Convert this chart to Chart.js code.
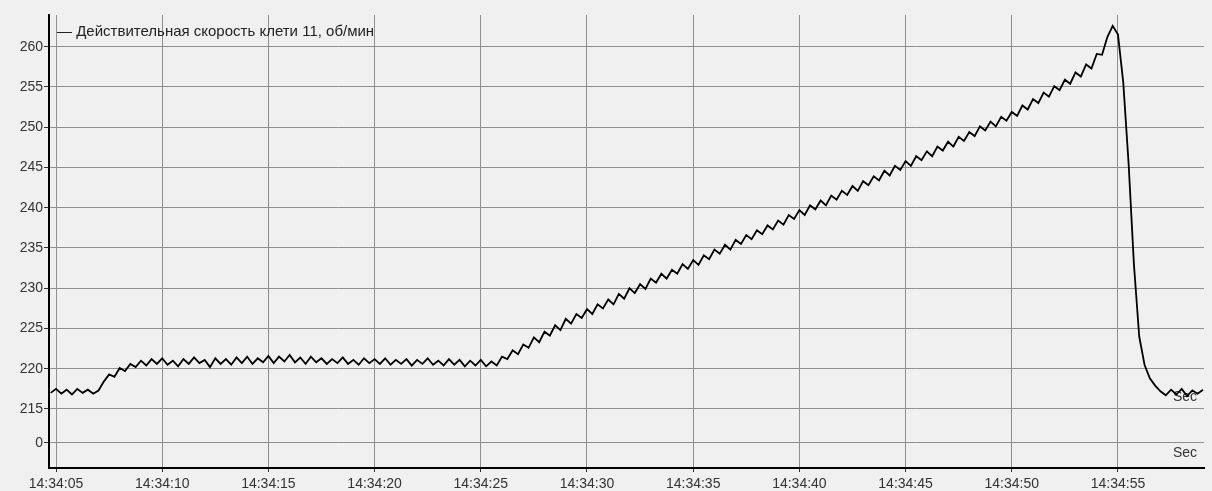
<!DOCTYPE html>
<html>
<head>
<meta charset="utf-8">
<script src="https://cdn.jsdelivr.net/npm/chart.js@4/dist/chart.umd.min.js"></script>
<style>
  html, body { margin: 0; padding: 0; background: #f0f0f0; }
  #wrap { width: 1212px; height: 491px; position: relative; }
</style>
</head>
<body>
<div id="wrap"><canvas id="grafico"></canvas></div>
<script>
// время в секундах после 14:34:00, шаг записи 0.25 с
const inicioAmostra = 4.75;
const passoAmostra = 0.25;

// скорость клети 11, об/мин (по участкам)
const velInicial = [217.0, 217.5, 216.9, 217.4, 216.8, 217.5, 217.0, 217.4, 216.9, 217.3];
const velDegrau = [218.4, 219.3, 219.0, 220.1, 219.7, 220.6, 220.2, 221.0];
const velPatamar = [
  220.4, 221.2, 220.6, 221.3,
  220.5, 221.0, 220.3, 221.2,
  220.6, 221.4, 220.7, 221.1,
  220.2, 221.3, 220.6, 221.2,
  220.5, 221.4, 220.7, 221.5,
  220.6, 221.3, 220.8, 221.6,
  220.7, 221.5, 220.9, 221.7,
  220.8, 221.4, 220.6, 221.5,
  220.8, 221.3, 220.6, 221.2,
  220.7, 221.4, 220.6, 221.1,
  220.5, 221.3, 220.7, 221.2,
  220.6, 221.3, 220.5, 221.1,
  220.6, 221.2, 220.4, 221.1,
  220.6, 221.3, 220.5, 221.0,
  220.4, 221.2, 220.5, 221.1,
  220.3, 221.0, 220.4, 221.1,
  220.3, 220.9, 220.4
];
const velInicioRampa = [
  221.5, 221.2, 222.3, 221.8,
  223.0, 222.6, 223.9, 223.3,
  224.6, 224.1, 225.4, 224.8,
  226.2, 225.6, 226.8, 226.3
];
const velRampa = [
  227.4, 226.8, 228.0, 227.5, 228.6, 228.0, 229.3, 228.7, 230.0, 229.4,
  230.5, 229.9, 231.2, 230.7, 231.8, 231.2, 232.3, 231.8, 233.0, 232.4,
  233.5, 232.9, 234.1, 233.6, 234.8, 234.3, 235.4, 234.8, 236.0, 235.5,
  236.6, 236.1, 237.2, 236.7, 237.8, 237.3, 238.4, 237.9, 239.1, 238.6,
  239.7, 239.1, 240.3, 239.8, 240.9, 240.3, 241.5, 241.0, 242.1, 241.6,
  242.7, 242.1, 243.3, 242.8, 243.9, 243.4, 244.6, 244.0, 245.2, 244.7,
  245.8, 245.2, 246.4, 245.9, 247.0, 246.4, 247.6, 247.1, 248.2, 247.6,
  248.8, 248.3, 249.4, 248.9, 250.1, 249.6, 250.7, 250.1, 251.3, 250.8,
  251.9, 251.4, 252.7, 252.2, 253.5, 253.0, 254.3, 253.8, 255.1, 254.6,
  255.9, 255.4, 256.8, 256.3, 257.8, 257.3, 259.1, 259.0, 261.2
];
const velQueda = [
  262.6, 261.5, 255.5, 245.5, 233.0, 224.0, 220.5, 218.8, 217.9, 217.2,
  216.7, 217.4, 216.8, 217.5, 216.6, 217.3, 216.9, 217.4
];

const velocidade = [].concat(velInicial, velDegrau, velPatamar, velInicioRampa, velRampa, velQueda);

// ось X
const xTicks = [5, 10, 15, 20, 25, 30, 35, 40, 45, 50, 55];
const xRotulos = ['14:34:05', '14:34:10', '14:34:15', '14:34:20', '14:34:25', '14:34:30',
                  '14:34:35', '14:34:40', '14:34:45', '14:34:50', '14:34:55'];
// ось Y (разрыв: "0" стоит под 215)
const yTicks = [210.81, 215, 220, 225, 230, 235, 240, 245, 250, 255, 260];
const yRotulos = ['0', '215', '220', '225', '230', '235', '240', '245', '250', '255', '260'];

const legenda = '— Действительная скорость клети 11, об/мин';

const pontos = velocidade.map((v, i) => ({ x: inicioAmostra + i * passoAmostra, y: v }));

const textos = {
  id: 'textos',
  beforeDatasetsDraw(chart) {
    const ctx = chart.ctx;
    const a = chart.chartArea;
    ctx.save();
    ctx.font = '14px Arial, "Liberation Sans", sans-serif';
    ctx.fillStyle = '#333';
    ctx.textBaseline = 'middle';
    ctx.textAlign = 'right';
    ctx.fillText('Sec', a.right - 7, chart.scales.y.getPixelForValue(216.5));
    ctx.fillText('Sec', a.right - 7, a.bottom - 15);
    ctx.textAlign = 'left';
    ctx.fillStyle = '#222';
    ctx.font = '15px Arial, "Liberation Sans", sans-serif';
    ctx.fillText(legenda, a.left + 8, a.top + 17);
    ctx.restore();
  }
};

Chart.defaults.font.family = 'Arial, "Liberation Sans", sans-serif';
Chart.defaults.color = '#333';

const ctx = document.getElementById('grafico').getContext('2d');
window.chart = new Chart(ctx, {
  type: 'line',
  data: {
    datasets: [{
      label: legenda,
      data: pontos,
      borderColor: '#000',
      borderWidth: 1.8,
      pointRadius: 0,
      tension: 0,
      fill: false
    }]
  },
  options: {
    responsive: true,
    maintainAspectRatio: false,
    animation: false,
    layout: { padding: { top: 15, right: 8, left: 0, bottom: 0 } },
    plugins: {
      legend: { display: false },
      tooltip: { enabled: false }
    },
    scales: {
      x: {
        type: 'linear',
        min: 4.67,
        max: 59.05,
        afterBuildTicks: (s) => { s.ticks = xTicks.map(v => ({ value: v })); },
        afterFit: (s) => { s.height = 23; },
        ticks: {
          font: { size: 14 },
          padding: 4,
          maxRotation: 0,
          autoSkip: false,
          callback: (v) => xRotulos[xTicks.indexOf(v)]
        },
        grid: { color: '#8f8f8f', lineWidth: 1, tickLength: 4, tickColor: '#333' },
        border: { color: '#000', width: 2 }
      },
      y: {
        type: 'linear',
        min: 207.67,
        max: 263.94,
        afterBuildTicks: (s) => { s.ticks = yTicks.map(v => ({ value: v })); },
        afterFit: (s) => { s.width = 49; },
        ticks: {
          font: { size: 14 },
          padding: 1,
          autoSkip: false,
          callback: (v) => yRotulos[yTicks.indexOf(v)]
        },
        grid: { color: '#8f8f8f', lineWidth: 1, tickLength: 5, tickColor: '#333' },
        border: { color: '#000', width: 2 }
      }
    }
  },
  plugins: [textos]
});
</script>
</body>
</html>
